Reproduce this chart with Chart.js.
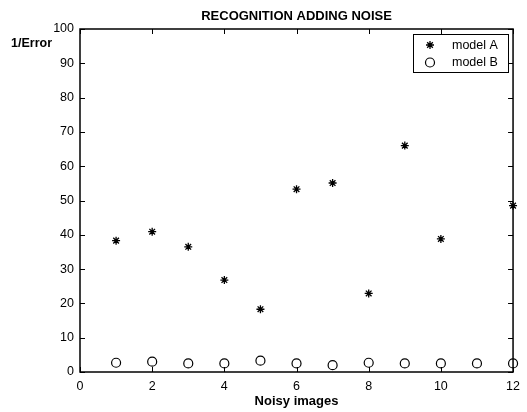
<!DOCTYPE html>
<html>
<head>
<meta charset="utf-8">
<script src="https://cdn.jsdelivr.net/npm/chart.js@4/dist/chart.umd.min.js"></script>
<style>
    body { margin: 0; background: #fff; }
    #wrap { width: 527px; height: 412px; }
</style>
</head>
<body>
<div id="wrap"><canvas id="chart" width="527" height="412"></canvas></div>
<script>
// Values
const noiseLevels = [1, 2, 3, 4, 5, 6, 7, 8, 9, 10, 11, 12];
const modelA = [38.3, 40.9, 36.5, 26.8, 18.3, 53.3, 55.1, 22.9, 66.0, 38.8, null, 48.5];
const modelB = [2.7, 3.0, 2.5, 2.5, 3.3, 2.5, 2.0, 2.7, 2.5, 2.5, 2.5, 2.5];
const xTicks = [0, 2, 4, 6, 8, 10, 12];
const yTicks = [0, 10, 20, 30, 40, 50, 60, 70, 80, 90, 100];

const FONT = '"Liberation Sans", Arial, Helvetica, sans-serif';

const toPoints = values => noiseLevels
    .map((x, i) => ({ x: x, y: values[i] }))
    .filter(p => p.y !== null);

// MATLAB-like frame: box, inward ticks on all sides, title, y label, legend
const matlabFrame = {
    id: 'matlabFrame',
    afterDraw(chart) {
        const ctx = chart.ctx;
        const area = chart.chartArea;
        const xs = chart.scales.x;
        const ys = chart.scales.y;
        const tick = 5;

        ctx.save();
        ctx.strokeStyle = '#000';
        ctx.lineWidth = 1.5;
        ctx.strokeRect(area.left, area.top, area.right - area.left, area.bottom - area.top);

        ctx.lineWidth = 1;
        ctx.beginPath();
        xTicks.forEach(v => {
            const px = Math.round(xs.getPixelForValue(v)) + 0.5;
            ctx.moveTo(px, area.bottom); ctx.lineTo(px, area.bottom - tick);
            ctx.moveTo(px, area.top); ctx.lineTo(px, area.top + tick);
        });
        yTicks.forEach(v => {
            const py = Math.round(ys.getPixelForValue(v)) + 0.5;
            ctx.moveTo(area.left, py); ctx.lineTo(area.left + tick, py);
            ctx.moveTo(area.right, py); ctx.lineTo(area.right - tick, py);
        });
        ctx.stroke();

        // title
        ctx.fillStyle = '#000';
        ctx.font = 'bold 13px ' + FONT;
        ctx.textAlign = 'center';
        ctx.textBaseline = 'alphabetic';
        ctx.fillText('RECOGNITION ADDING NOISE', (area.left + area.right) / 2, 20);

        // y label, horizontal at top left
        ctx.font = 'bold 12.5px ' + FONT;
        ctx.textAlign = 'left';
        ctx.fillText('1/Error', 11, 47);

        // legend box
        const lx = 413, ly = 34, lw = 95, lh = 38;
        ctx.fillStyle = '#fff';
        ctx.fillRect(lx, ly, lw, lh);
        ctx.lineWidth = 1;
        ctx.strokeStyle = '#000';
        ctx.strokeRect(lx + 0.5, ly + 0.5, lw, lh);

        chart.data.datasets.forEach((ds, i) => {
            const cy = ly + 11 + i * 17.5;
            ctx.strokeStyle = ds.borderColor;
            ctx.fillStyle = ds.backgroundColor;
            ctx.lineWidth = ds.borderWidth;
            Chart.helpers.drawPoint(ctx, {
                pointStyle: ds.pointStyle,
                radius: ds.pointRadius,
                rotation: 0,
                borderWidth: ds.borderWidth
            }, 430, cy);
            ctx.fillStyle = '#000';
            ctx.font = '12.5px ' + FONT;
            ctx.textAlign = 'left';
            ctx.textBaseline = 'middle';
            ctx.fillText(ds.label, 452, cy + 0.5);
        });
        ctx.restore();
    }
};

new Chart(document.getElementById('chart'), {
    type: 'scatter',
    data: {
        datasets: [{
            label: 'model A',
            data: toPoints(modelA),
            pointStyle: 'star',
            pointRadius: 4,
            pointHoverRadius: 4,
            borderWidth: 1.3,
            borderColor: '#000',
            backgroundColor: '#000',
            clip: false
        }, {
            label: 'model B',
            data: toPoints(modelB),
            pointStyle: 'circle',
            pointRadius: 4.5,
            pointHoverRadius: 4.5,
            borderWidth: 1.2,
            borderColor: '#000',
            backgroundColor: '#fff',
            clip: false
        }]
    },
    options: {
        responsive: false,
        animation: false,
        events: [],
        layout: { padding: { top: 29, right: 11, left: 0, bottom: 0 } },
        plugins: {
            legend: { display: false },
            title: { display: false },
            tooltip: { enabled: false }
        },
        scales: {
            x: {
                type: 'linear',
                min: 0,
                max: 12,
                afterFit: s => { s.height = 40; },
                afterBuildTicks: s => { s.ticks = xTicks.map(v => ({ value: v })); },
                grid: { display: true, drawOnChartArea: false, drawTicks: false },
                border: { display: false },
                ticks: { color: '#000', padding: 7, maxRotation: 0, font: { family: FONT, size: 12.5 } },
                title: {
                    display: true,
                    text: 'Noisy images',
                    color: '#000',
                    padding: { top: 0, bottom: 3 },
                    font: { family: FONT, size: 13, weight: 'bold' }
                }
            },
            y: {
                type: 'linear',
                min: 0,
                max: 100,
                afterFit: s => { s.width = 80; },
                afterBuildTicks: s => { s.ticks = yTicks.map(v => ({ value: v })); },
                grid: { display: true, drawOnChartArea: false, drawTicks: false },
                border: { display: false },
                ticks: { color: '#000', padding: 6, font: { family: FONT, size: 12.5 } }
            }
        }
    },
    plugins: [matlabFrame]
});
</script>
</body>
</html>
